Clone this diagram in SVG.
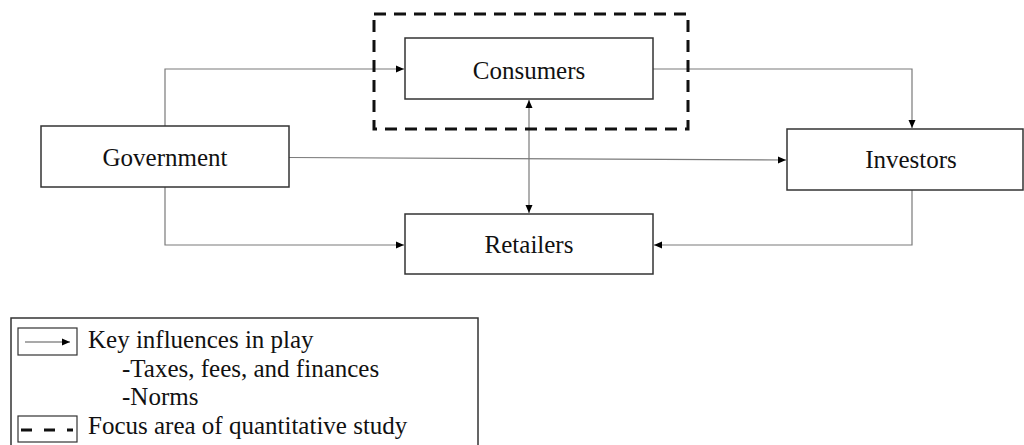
<svg xmlns="http://www.w3.org/2000/svg" width="1024" height="445" viewBox="0 0 1024 445">
<style>
.node{fill:#fff;stroke:#333;stroke-width:1.5}
.lbl{font-family:'Liberation Serif','Times New Roman','DejaVu Serif',serif;font-size:25px;fill:#111;text-anchor:middle}
.leg{font-family:'Liberation Serif','Times New Roman','DejaVu Serif',serif;font-size:25px;fill:#111}
.conn{fill:none;stroke:#7a7a7a;stroke-width:1.2}
.focus{fill:none;stroke:#111;stroke-width:3;stroke-dasharray:12 8}
</style>
<defs>
<marker id="ah" markerUnits="userSpaceOnUse" markerWidth="9" markerHeight="8" refX="8" refY="4" orient="auto">
<path d="M0,0.5 L8,4 L0,7.5 z" fill="#000"/>
</marker>
<marker id="ahs" markerUnits="userSpaceOnUse" markerWidth="9" markerHeight="8" refX="0" refY="4" orient="auto">
<path d="M8,0.5 L0,4 L8,7.5 z" fill="#000"/>
</marker>
</defs>
<rect width="1024" height="445" fill="#fff"/>
<g id="connectors">
<polyline class="conn" points="165,126 165,69 404,69" marker-end="url(#ah)"/>
<polyline class="conn" points="653,69 912,69 912,128" marker-end="url(#ah)"/>
<line class="conn" x1="289" y1="157.5" x2="786" y2="160" marker-end="url(#ah)"/>
<line class="conn" x1="529" y1="100" x2="529" y2="213" marker-start="url(#ahs)" marker-end="url(#ah)"/>
<polyline class="conn" points="165,187 165,245 404,245" marker-end="url(#ah)"/>
<polyline class="conn" points="912,190 912,245 654,245" marker-end="url(#ah)"/>
</g>
<g id="focus-area">
<rect class="focus" x="374" y="14" width="314" height="115"/>
</g>
<g id="consumers" font-family="Liberation Serif, serif">
<rect class="node" x="405" y="38" width="248" height="61"/>
<text class="lbl" x="529" y="79">Consumers</text>
</g>
<g id="government" font-family="Liberation Serif, serif">
<rect class="node" x="41" y="126" width="248" height="61"/>
<text class="lbl" x="165" y="166">Government</text>
</g>
<g id="investors" font-family="Liberation Serif, serif">
<rect class="node" x="787" y="129" width="236" height="61"/>
<text class="lbl" x="911" y="168">Investors</text>
</g>
<g id="retailers" font-family="Liberation Serif, serif">
<rect class="node" x="405" y="214" width="248" height="60"/>
<text class="lbl" x="529" y="253">Retailers</text>
</g>
<g id="legend" font-family="Liberation Serif, serif">
<rect x="11" y="318" width="467" height="140" fill="#fff" stroke="#333" stroke-width="1.5"/>
<rect x="18" y="328" width="59" height="27" fill="#fff" stroke="#333" stroke-width="1.2"/>
<line x1="25" y1="342" x2="70" y2="342" stroke="#555" stroke-width="1.2" marker-end="url(#ah)"/>
<rect x="18" y="416" width="59" height="26" fill="#fff" stroke="#333" stroke-width="1.2"/>
<line x1="21" y1="430" x2="73" y2="430" stroke="#111" stroke-width="3" stroke-dasharray="11 12"/>
<text class="leg" x="88" y="348">Key influences in play</text>
<text class="leg" x="122" y="377">-Taxes, fees, and finances</text>
<text class="leg" x="122" y="405">-Norms</text>
<text class="leg" x="88" y="434">Focus area of quantitative study</text>
</g>
</svg>
